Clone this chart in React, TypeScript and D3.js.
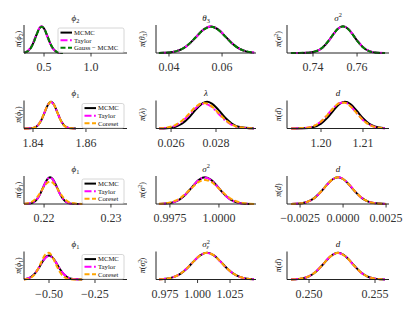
import * as d3 from "d3";

// grid of 4 x 3 axes (pixel layout)
const colLeft = [24, 156, 287];
const colWidth = [103, 100, 102];
const rowBottom = [53, 128.5, 204, 279.5];
const axHeight = 28;

const namesGauss = ["MCMC", "Taylor", "Gauss − MCMC"];
const namesCoreset = ["MCMC", "Taylor", "Coreset"];

const lineStyle: Record<string, { stroke: string; dash: string | null }> = {
  MCMC: { stroke: "#000000", dash: null },
  Taylor: { stroke: "#ff00ff", dash: "7,2.5,1.8,2.5" },
  "Gauss − MCMC": { stroke: "#008000", dash: "5,2.5" },
  Coreset: { stroke: "#ffa500", dash: "5,2.5" },
};

// ---- row 0 ----
const phi2X = [0.29, 0.33, 0.36, 0.39, 0.42, 0.45, 0.475, 0.5, 0.53, 0.56, 0.59, 0.62, 0.66, 0.7];
const phi2Mcmc = [0.015, 0.076, 0.198, 0.413, 0.691, 0.927, 1, 0.927, 0.691, 0.413, 0.198, 0.076, 0.015, 0.002];
const phi2Taylor = [0.02, 0.09, 0.22, 0.44, 0.71, 0.94, 1.01, 0.92, 0.67, 0.39, 0.18, 0.066, 0.012, 0.001];
const phi2Gauss = [0.014, 0.072, 0.192, 0.405, 0.685, 0.922, 0.998, 0.93, 0.7, 0.42, 0.205, 0.08, 0.017, 0.002];

const theta3X = [0.0362, 0.04, 0.0425, 0.045, 0.0475, 0.05, 0.053, 0.0558, 0.0586, 0.0614, 0.064, 0.0665, 0.069, 0.0721];
const theta3Mcmc = [0.002, 0.019, 0.06, 0.155, 0.333, 0.583, 0.882, 1, 0.882, 0.607, 0.344, 0.162, 0.062, 0.014];
const theta3Taylor = [0.002, 0.018, 0.058, 0.152, 0.33, 0.58, 0.88, 1.005, 0.89, 0.615, 0.352, 0.168, 0.066, 0.016];
const theta3Gauss = [0.002, 0.02, 0.062, 0.158, 0.336, 0.584, 0.875, 0.985, 0.87, 0.6, 0.342, 0.162, 0.063, 0.015];

const sig0X = [0.73, 0.738, 0.742, 0.7445, 0.747, 0.749, 0.7512, 0.7536, 0.756, 0.7582, 0.7602, 0.7627, 0.7652, 0.769, 0.7727];
const sig0Mcmc = [0, 0.011, 0.083, 0.216, 0.447, 0.677, 0.899, 1, 0.899, 0.677, 0.447, 0.216, 0.083, 0.012, 0.001];
const sig0Taylor = [0, 0.01, 0.08, 0.21, 0.44, 0.672, 0.897, 1.0, 0.905, 0.688, 0.46, 0.226, 0.088, 0.013, 0.001];
const sig0Gauss = [0, 0.012, 0.086, 0.22, 0.452, 0.68, 0.9, 0.998, 0.895, 0.672, 0.442, 0.212, 0.081, 0.012, 0.001];

// ---- row 1 ----
const phi1aX = [1.8366, 1.839, 1.8405, 1.842, 1.8432, 1.8444, 1.8456, 1.8468, 1.848, 1.8492, 1.8504, 1.8516, 1.8531, 1.8546, 1.8562];
const phi1aMcmc = [0, 0.005, 0.032, 0.135, 0.325, 0.607, 0.882, 1, 0.882, 0.607, 0.325, 0.135, 0.032, 0.005, 0];
const phi1aTaylor = [0, 0.006, 0.036, 0.142, 0.335, 0.618, 0.888, 0.998, 0.874, 0.596, 0.316, 0.13, 0.03, 0.004, 0];
const phi1aCoreset = [0, 0.006, 0.034, 0.14, 0.332, 0.614, 0.886, 1.0, 0.878, 0.6, 0.32, 0.132, 0.031, 0.005, 0];

const lambdaX = [0.02547, 0.0258, 0.0262, 0.0265, 0.0268, 0.0271, 0.0274, 0.0276, 0.0278, 0.0281, 0.0284, 0.0287, 0.029, 0.02969];
const lambdaMcmc = [0.002, 0.011, 0.066, 0.187, 0.411, 0.707, 0.946, 1, 0.946, 0.707, 0.411, 0.187, 0.066, 0.002];
const lambdaTaylor = [0.005, 0.024, 0.111, 0.267, 0.508, 0.772, 0.922, 0.913, 0.813, 0.564, 0.311, 0.134, 0.046, 0.002];
const lambdaCoreset = [0.007, 0.032, 0.134, 0.303, 0.555, 0.812, 0.954, 0.941, 0.839, 0.592, 0.335, 0.151, 0.055, 0.002];

const d1X = [1.1929, 1.196, 1.198, 1.2, 1.2015, 1.203, 1.2045, 1.2057, 1.207, 1.2085, 1.21, 1.2115, 1.213, 1.2152];
const d1Mcmc = [0, 0.007, 0.046, 0.184, 0.399, 0.685, 0.928, 1, 0.916, 0.665, 0.383, 0.174, 0.063, 0.009];
const d1Taylor = [0.001, 0.017, 0.08, 0.265, 0.505, 0.776, 0.96, 0.975, 0.842, 0.58, 0.32, 0.142, 0.05, 0.007];
const d1Coreset = [0.001, 0.016, 0.078, 0.262, 0.502, 0.772, 0.956, 0.968, 0.837, 0.576, 0.318, 0.141, 0.05, 0.007];

// ---- row 2 ----
const phi1bX = [0.217, 0.218, 0.2185, 0.219, 0.2195, 0.22, 0.2205, 0.2209, 0.2213, 0.2218, 0.2223, 0.2228, 0.2233, 0.224, 0.2257];
const phi1bMcmc = [0.001, 0.024, 0.077, 0.2, 0.419, 0.697, 0.93, 1, 0.93, 0.697, 0.419, 0.2, 0.077, 0.014, 0];
const phi1bTaylor = [0.001, 0.025, 0.079, 0.204, 0.424, 0.701, 0.931, 0.998, 0.926, 0.69, 0.412, 0.196, 0.075, 0.013, 0];
const phi1bCoreset = [0.007, 0.06, 0.138, 0.269, 0.454, 0.653, 0.798, 0.84, 0.798, 0.653, 0.454, 0.269, 0.138, 0.041, 0.001];

const sig2X = [0.99694, 0.9973, 0.9977, 0.998, 0.9983, 0.9986, 0.999, 0.99929, 0.9996, 0.9999, 1.0002, 1.0005, 1.0008, 1.0012, 1.00179];
const sig2Mcmc = [0.003, 0.016, 0.071, 0.174, 0.358, 0.607, 0.916, 1, 0.904, 0.679, 0.419, 0.216, 0.091, 0.022, 0.001];
const sig2Taylor = [0.003, 0.017, 0.073, 0.177, 0.362, 0.611, 0.918, 0.998, 0.9, 0.673, 0.414, 0.212, 0.089, 0.021, 0.001];
const sig2Coreset = [0.008, 0.029, 0.101, 0.212, 0.387, 0.596, 0.837, 0.9, 0.828, 0.653, 0.438, 0.254, 0.124, 0.039, 0.004];

const d2X = [-0.00302, -0.0025, -0.0021, -0.0017, -0.0013, -0.0009, -0.0006, -0.00029, 0, 0.0003, 0.0007, 0.0011, 0.0015, 0.0019, 0.0025];
const d2Mcmc = [0.003, 0.022, 0.077, 0.212, 0.452, 0.749, 0.927, 1, 0.937, 0.761, 0.464, 0.221, 0.081, 0.024, 0.002];
const d2Taylor = [0.003, 0.021, 0.075, 0.208, 0.447, 0.745, 0.925, 1, 0.94, 0.766, 0.47, 0.226, 0.084, 0.025, 0.002];
const d2Coreset = [0.003, 0.022, 0.076, 0.21, 0.45, 0.747, 0.926, 0.999, 0.938, 0.763, 0.467, 0.223, 0.082, 0.024, 0.002];

// ---- row 3 ----
const phi1cX = [-0.636, -0.62, -0.6, -0.58, -0.56, -0.54, -0.52, -0.5, -0.48, -0.46, -0.44, -0.42, -0.4, -0.37, -0.32];
const phi1cMcmc = [0.013, 0.033, 0.094, 0.221, 0.43, 0.685, 0.912, 1, 0.912, 0.685, 0.43, 0.221, 0.094, 0.018, 0];
const phi1cTaylor = [0.015, 0.038, 0.101, 0.231, 0.432, 0.683, 0.894, 0.98, 0.894, 0.683, 0.432, 0.231, 0.101, 0.021, 0.001];
const phi1cCoreset = [0.005, 0.018, 0.067, 0.193, 0.435, 0.764, 1.044, 1.111, 0.921, 0.595, 0.299, 0.117, 0.036, 0.003, 0];

const sigEpsX = [0.9703, 0.976, 0.982, 0.987, 0.992, 0.997, 1.002, 1.0073, 1.0126, 1.0176, 1.0226, 1.0276, 1.0326, 1.038, 1.0434];
const sigEpsMcmc = [0.007, 0.028, 0.097, 0.221, 0.424, 0.679, 0.904, 1, 0.904, 0.679, 0.424, 0.221, 0.097, 0.032, 0.008];
const sigEpsTaylor = [0.008, 0.031, 0.102, 0.227, 0.43, 0.683, 0.905, 0.998, 0.9, 0.673, 0.418, 0.216, 0.094, 0.03, 0.007];
const sigEpsCoreset = [0.007, 0.029, 0.099, 0.224, 0.427, 0.681, 0.905, 1.0, 0.902, 0.676, 0.421, 0.219, 0.096, 0.031, 0.008];

const d3X = [0.24863, 0.249, 0.2495, 0.25, 0.2505, 0.251, 0.2516, 0.2522, 0.2528, 0.2534, 0.2539, 0.2544, 0.2549, 0.2554, 0.25575];
const d3Mcmc = [0.004, 0.011, 0.042, 0.12, 0.282, 0.533, 0.855, 1, 0.855, 0.533, 0.282, 0.12, 0.042, 0.011, 0.004];
const d3Taylor = [0.005, 0.013, 0.046, 0.126, 0.289, 0.54, 0.858, 0.998, 0.85, 0.527, 0.276, 0.116, 0.04, 0.01, 0.004];
const d3Coreset = [0.004, 0.012, 0.044, 0.123, 0.286, 0.537, 0.857, 0.999, 0.852, 0.53, 0.279, 0.118, 0.041, 0.011, 0.004];

// axis titles (^ = superscript, _ = subscript)
const titles = ["ϕ_2", "θ_3", "σ^2", "ϕ_1", "λ", "d", "ϕ_1", "σ^2", "d", "ϕ_1", "σ^2_ε", "d"];

const xDomains = [
  [0.287, 1.383], [0.0351, 0.0728], [0.7282, 0.7745],
  [1.8366, 1.8755], [0.02533, 0.02978], [1.1919, 1.2162],
  [0.217, 0.2324], [0.99679, 1.00189], [-0.00326, 0.00267],
  [-0.636, -0.076], [0.968, 1.045], [0.24833, 0.25606],
];
const tickValues = [
  [0.5, 1.0], [0.04, 0.06], [0.74, 0.76],
  [1.84, 1.86], [0.026, 0.028], [1.2, 1.21],
  [0.22, 0.23], [0.9975, 1.0], [-0.0025, 0, 0.0025],
  [-0.5, -0.25], [0.975, 1.0, 1.025], [0.25, 0.255],
];
const tickDigits = [1, 2, 2, 2, 3, 2, 2, 4, 4, 2, 3, 3];

const panels = [
  { x: phi2X, ys: [phi2Mcmc, phi2Taylor, phi2Gauss], names: namesGauss },
  { x: theta3X, ys: [theta3Mcmc, theta3Taylor, theta3Gauss], names: namesGauss },
  { x: sig0X, ys: [sig0Mcmc, sig0Taylor, sig0Gauss], names: namesGauss },
  { x: phi1aX, ys: [phi1aMcmc, phi1aTaylor, phi1aCoreset], names: namesCoreset },
  { x: lambdaX, ys: [lambdaMcmc, lambdaTaylor, lambdaCoreset], names: namesCoreset },
  { x: d1X, ys: [d1Mcmc, d1Taylor, d1Coreset], names: namesCoreset },
  { x: phi1bX, ys: [phi1bMcmc, phi1bTaylor, phi1bCoreset], names: namesCoreset },
  { x: sig2X, ys: [sig2Mcmc, sig2Taylor, sig2Coreset], names: namesCoreset },
  { x: d2X, ys: [d2Mcmc, d2Taylor, d2Coreset], names: namesCoreset },
  { x: phi1cX, ys: [phi1cMcmc, phi1cTaylor, phi1cCoreset], names: namesCoreset },
  { x: sigEpsX, ys: [sigEpsMcmc, sigEpsTaylor, sigEpsCoreset], names: namesCoreset },
  { x: d3X, ys: [d3Mcmc, d3Taylor, d3Coreset], names: namesCoreset },
];

const ylabelX = [21, 145, 281];
const serif = "'Liberation Serif', 'DejaVu Serif', serif";

function isLetter(c: string) {
  return /\p{L}/u.test(c);
}

// tiny math renderer: letters italic, scripts smaller and shifted
function mathSpans(src: string, fs: number) {
  const out: any[] = [];
  let shift = 0;
  let k = 0;
  let i = 0;
  while (i < src.length) {
    const c = src[i];
    if ((c === "^" || c === "_") && i + 1 < src.length) {
      const ch = src[i + 1];
      const target = c === "^" ? -0.38 * fs : 0.25 * fs;
      const dx = c === "_" && src[i - 2] === "^" ? -0.36 * fs : 0;
      out.push(
        <tspan key={k++} dx={dx} dy={target - shift} fontSize={fs * 0.7}
          fontStyle={isLetter(ch) ? "italic" : "normal"}>{ch}</tspan>
      );
      shift = target;
      i += 2;
    } else {
      out.push(
        <tspan key={k++} dy={-shift} fontSize={fs}
          fontStyle={isLetter(c) ? "italic" : "normal"}>{c}</tspan>
      );
      shift = 0;
      i++;
    }
  }
  return out;
}

function fmt(v: number, digits: number) {
  return v.toFixed(digits).replace("-", "−");
}

function Panel({ idx }: { idx: number }) {
  const p = panels[idx];
  const row = Math.floor(idx / 3);
  const col = idx % 3;
  const left = colLeft[col];
  const width = colWidth[col];
  const bottom = rowBottom[row];
  const top = bottom - axHeight;

  const xScale = d3.scaleLinear().domain(xDomains[idx]).range([left, left + width]);
  const yMax = d3.max(p.ys, (s) => d3.max(s)) as number;
  const yScale = d3.scaleLinear().domain([0, yMax * 1.05]).range([bottom, top]);

  const line = d3
    .line<number>()
    .x((_, i) => xScale(p.x[i]))
    .y((d) => yScale(d))
    .curve(d3.curveMonotoneX);

  const title = titles[idx];

  return (
    <g>
      {/* curves */}
      {p.ys.map((s, i) => {
        const st = lineStyle[p.names[i]];
        return (
          <path key={i} d={line(s) as string} fill="none" stroke={st.stroke}
            strokeWidth={2} strokeDasharray={st.dash ?? undefined}
            strokeLinejoin="round" />
        );
      })}
      {/* spines */}
      <line x1={left} x2={left} y1={top} y2={bottom} stroke="#222" strokeWidth={1} />
      <line x1={left} x2={left + width} y1={bottom} y2={bottom} stroke="#222" strokeWidth={1} />
      {/* ticks */}
      {tickValues[idx].map((t) => (
        <g key={t}>
          <line x1={xScale(t)} x2={xScale(t)} y1={bottom} y2={bottom + 3.5} stroke="#222" strokeWidth={0.9} />
          <text x={xScale(t)} y={bottom + 18} textAnchor="middle" fontSize={12} fill="#333"
            style={{ fontFamily: serif }}>
            {fmt(t, tickDigits[idx])}
          </text>
        </g>
      ))}
      {/* title */}
      <text x={left + width / 2} y={top - 4.5} textAnchor="middle" fill="#111" style={{ fontFamily: serif }}>
        {mathSpans(title, 9)}
      </text>
      {/* y label */}
      <text transform={`translate(${ylabelX[col]},${(top + bottom) / 2}) rotate(-90)`}
        textAnchor="middle" fill="#111" style={{ fontFamily: serif }}>
        {mathSpans("π(" + title + ")", 8)}
      </text>
      {col === 0 && <Legend names={p.names} right={left + width - 3} bottom={bottom - 0.5} />}
    </g>
  );
}

function Legend({ names, right, bottom }: { names: string[]; right: number; bottom: number }) {
  const w = names[2].length > 8 ? 66 : 42;
  const h = 24.5;
  const x0 = right - w;
  const y0 = bottom - h;
  return (
    <g>
      <rect x={x0} y={y0} width={w} height={h} rx={1.8} fill="#fff" fillOpacity={0.8}
        stroke="#cccccc" strokeWidth={0.8} />
      {names.map((n, i) => {
        const y = y0 + 4.6 + i * 7.6;
        const st = lineStyle[n];
        return (
          <g key={n}>
            <line x1={x0 + 2.5} x2={x0 + 14} y1={y} y2={y} stroke={st.stroke} strokeWidth={2}
              strokeDasharray={st.dash ?? undefined} />
            <text x={x0 + 16} y={y + 2.3} fontSize={6.7} fill="#111" style={{ fontFamily: serif }}>{n}</text>
          </g>
        );
      })}
    </g>
  );
}

export default function App() {
  return (
    <svg width={415} height={311} style={{ position: "absolute", left: 0, top: 0, background: "#fff", fontFamily: serif }}>
      {panels.map((_, i) => (
        <Panel key={i} idx={i} />
      ))}
    </svg>
  );
}
